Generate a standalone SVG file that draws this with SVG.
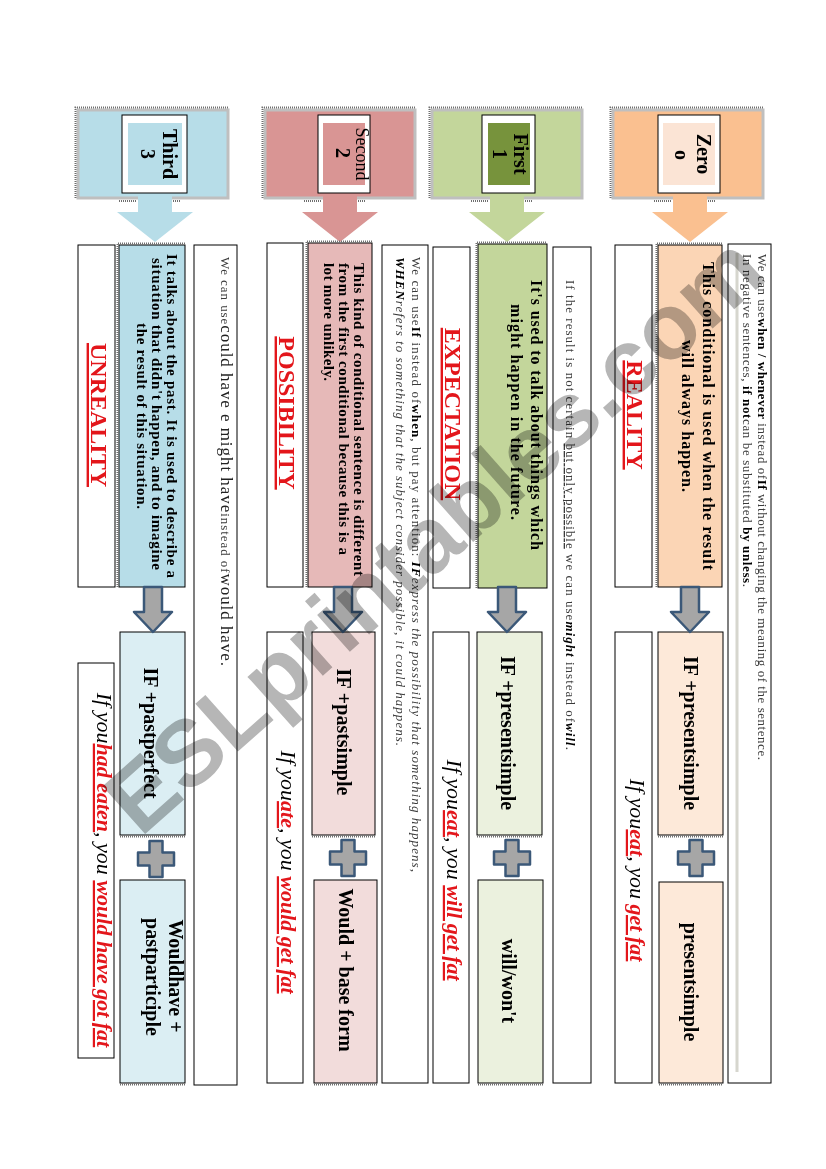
<svg xmlns="http://www.w3.org/2000/svg" width="826" height="1169" viewBox="0 0 826 1169">
<defs>
<style>
text{font-family:"Liberation Serif","Times New Roman",serif;fill:#000}
.ln{stroke:#000;stroke-width:1}
.wb{fill:#fff;stroke:#000;stroke-width:1}
.hb{fill:none;stroke:#BFBFBF;stroke-width:3}
.sh{fill:none;stroke:#6f6f6f;stroke-width:2;stroke-dasharray:1 1}
.ar{fill:#A6A6A6;stroke:#3B5878;stroke-width:2.5;stroke-linejoin:round}
.d{font-size:16px;font-weight:bold}
.d2{font-size:15px;font-weight:bold}
.lab{font-size:24px;font-weight:bold;fill:#E3161B;text-decoration:underline}
.f{font-size:20px;font-weight:bold}
.ex{font-size:22px;font-style:italic}
.r{fill:#E3161B;font-weight:bold;text-decoration:underline}
.n{font-size:13px;fill:#3a3a3a}
.nb{font-weight:bold;fill:#000}
.big{font-size:17px;fill:#222}
.wm{font-family:"Liberation Sans",Arial,sans-serif;font-size:93px;font-weight:bold;fill:#B6B6B6;mix-blend-mode:multiply}
</style>
</defs>
<rect width="826" height="1169" fill="#fff"/>

<!-- ZERO -->
<g id="zero-header">
<path d="M613,110 H763 V198 H707 V212 H728 L690,242 L652,212 H673 V198 H613 Z" fill="#FAC090"/>
<path class="hb" d="M673,198 H613 V110 H763 V198 H707"/>
<path class="sh" d="M610.5,198 V107.5 H764"/>
<path class="sh" d="M654,201 H672 M708,201 H716"/>
<rect class="wb" x="658" y="115" width="62" height="78"/>
<rect x="663" y="123" width="52" height="62" fill="#FBE4D5"/>
<text class="f" transform="translate(697,154) rotate(90)" text-anchor="middle">Zero</text>
<text class="f" transform="translate(675,155) rotate(90)" text-anchor="middle">o</text>
</g>
<g id="zero-desc">
<rect class="ln" x="658" y="245" width="64" height="342" fill="#FBD5B5"/>
<path class="sh" d="M656.5,587 V243.5 H722"/>
<text class="d" transform="translate(703,416) rotate(90)" text-anchor="middle" textLength="308">This conditional is used when the result</text>
<text class="d" transform="translate(682,416) rotate(90)" text-anchor="middle" textLength="152">will always happen.</text>
</g>
<g id="zero-label">
<rect class="wb" x="615" y="245" width="37" height="342"/>
<text class="lab" transform="translate(627,415) rotate(90)" text-anchor="middle">REALITY</text>
</g>
<g id="zero-note">
<rect class="wb" x="728" y="244" width="43" height="839"/>
<line x1="737" y1="253" x2="737" y2="1072" stroke="#D6D6CE" stroke-width="3"/>
<text class="n" transform="translate(758,254) rotate(90)" textLength="506">We can use<tspan class="nb">when / whenever</tspan>  instead of<tspan class="nb">If</tspan> without changing the meaning of the sentence.</text>
<text class="n" transform="translate(743,254) rotate(90)" textLength="333">In negative sentences, <tspan class="nb">if not</tspan>can be substituted <tspan class="nb">by unless</tspan>.</text>
</g>
<g id="zero-if">
<rect class="ln" x="658" y="632" width="65" height="203" fill="#FDE9D9"/>
<path class="sh" d="M658,836.5 H723"/>
<text class="f" transform="translate(684,733) rotate(90)" text-anchor="middle">IF +presentsimple</text>
</g>
<g id="zero-result">
<rect class="ln" x="659" y="882" width="64" height="201" fill="#FDE9D9"/>
<path class="sh" d="M659,1084.5 H723"/>
<text class="f" transform="translate(684,982) rotate(90)" text-anchor="middle">presentsimple</text>
</g>
<g id="zero-example">
<rect class="wb" x="615" y="632" width="37" height="451"/>
<text class="ex" transform="translate(630,870) rotate(90)" text-anchor="middle">If you<tspan class="r">eat</tspan>, you <tspan class="r">get fat</tspan></text>
</g>

<!-- FIRST -->
<g id="first-header">
<path d="M432,110 H582 V198 H524 V212 H545 L507,242 L469,212 H490 V198 H432 Z" fill="#C3D69B"/>
<path class="hb" d="M490,198 H432 V110 H582 V198 H524"/>
<path class="sh" d="M429.5,198 V107.5 H583"/>
<path class="sh" d="M471,201 H489 M525,201 H533"/>
<rect class="wb" x="482" y="115" width="53" height="78"/>
<rect x="488" y="123" width="42" height="62" fill="#77933C"/>
<text class="f" transform="translate(514,154) rotate(90)" text-anchor="middle">First</text>
<text class="f" transform="translate(493,154) rotate(90)" text-anchor="middle">1</text>
</g>
<g id="first-desc">
<rect class="ln" x="478" y="244" width="69" height="344" fill="#C3D69B"/>
<path class="sh" d="M476.5,588 V242.5 H547"/>
<text class="d" transform="translate(531,415) rotate(90)" text-anchor="middle" textLength="270">It's used to talk about things which</text>
<text class="d" transform="translate(511,412) rotate(90)" text-anchor="middle" textLength="216">might happen in the future.</text>
</g>
<g id="first-label">
<rect class="wb" x="433" y="247" width="37" height="341"/>
<text class="lab" transform="translate(445,414) rotate(90)" text-anchor="middle">EXPECTATION</text>
</g>
<g id="first-note">
<rect class="wb" x="553" y="247" width="38" height="836"/>
<text class="n" transform="translate(566,280) rotate(90)" textLength="470">If the result is not certain <tspan text-decoration="underline">but only possible</tspan> we can use<tspan class="nb" font-style="italic">might</tspan> instead of<tspan class="nb" font-style="italic">will</tspan>.</text>
</g>
<g id="first-note-2">
<rect class="wb" x="382" y="245" width="46" height="838"/>
<text class="n" transform="translate(412,257) rotate(90)" textLength="615">We can use<tspan class="nb">If</tspan> instead of<tspan class="nb">when</tspan>, but pay attention: <tspan class="nb" font-style="italic">IF</tspan><tspan font-style="italic">express the possibility that something happens,</tspan></text>
<text class="n" transform="translate(396,257) rotate(90)" font-style="italic" textLength="489"><tspan class="nb">WHEN</tspan>refers to something that the subject consider possible, it could happens.</text>
</g>
<g id="first-if">
<rect class="ln" x="477" y="632" width="65" height="203" fill="#EBF1DE"/>
<path class="sh" d="M477,836.5 H542"/>
<text class="f" transform="translate(501,733) rotate(90)" text-anchor="middle">IF +presentsimple</text>
</g>
<g id="first-result">
<rect class="ln" x="478" y="880" width="65" height="203" fill="#EBF1DE"/>
<path class="sh" d="M478,1084.5 H543"/>
<text class="f" transform="translate(502,981) rotate(90)" text-anchor="middle">will/won't</text>
</g>
<g id="first-example">
<rect class="wb" x="433" y="632" width="36" height="451"/>
<text class="ex" transform="translate(447,870) rotate(90)" text-anchor="middle">If you<tspan class="r">eat</tspan>, you <tspan class="r">will get fat</tspan></text>
</g>

<!-- SECOND -->
<g id="second-header">
<path d="M265,110 H415 V198 H357 V212 H378 L340,242 L302,212 H323 V198 H265 Z" fill="#D99594"/>
<path class="hb" d="M323,198 H265 V110 H415 V198 H357"/>
<path class="sh" d="M262.5,198 V107.5 H416"/>
<path class="sh" d="M304,201 H322 M358,201 H366"/>
<rect class="wb" x="318" y="115" width="52" height="78"/>
<rect x="323" y="123" width="42" height="62" fill="#D99594"/>
<text transform="translate(356,154) rotate(90)" text-anchor="middle" font-size="18">Second</text>
<text class="f" transform="translate(336,153) rotate(90)" text-anchor="middle" font-size="18">2</text>
</g>
<g id="second-desc">
<rect class="ln" x="308" y="243" width="64" height="344" fill="#E6B9B8"/>
<path class="sh" d="M306.5,587 V241.5 H372"/>
<text class="d2" transform="translate(354,263) rotate(90)" textLength="313">This kind of conditional sentence is different</text>
<text class="d2" transform="translate(339,263) rotate(90)" textLength="292">from the first conditional because this is a</text>
<text class="d2" transform="translate(324,263) rotate(90)" textLength="118">lot more unlikely.</text>
</g>
<g id="second-label">
<rect class="wb" x="267" y="243" width="36" height="344"/>
<text class="lab" transform="translate(279,413) rotate(90)" text-anchor="middle">POSSIBILITY</text>
</g>
<g id="second-if">
<rect class="ln" x="312" y="632" width="63" height="203" fill="#F2DCDB"/>
<path class="sh" d="M312,836.5 H375"/>
<text class="f" transform="translate(337,732) rotate(90)" text-anchor="middle">IF +pastsimple</text>
</g>
<g id="second-result">
<rect class="ln" x="314" y="880" width="63" height="203" fill="#F2DCDB"/>
<path class="sh" d="M314,1084.5 H377"/>
<text class="f" transform="translate(339,970) rotate(90)" text-anchor="middle">Would + base form</text>
</g>
<g id="second-example">
<rect class="wb" x="267" y="632" width="36" height="451"/>
<text class="ex" transform="translate(281,872) rotate(90)" text-anchor="middle">If you<tspan class="r">ate</tspan>, you <tspan class="r">would get fat</tspan></text>
</g>

<!-- THIRD -->
<g id="third-header">
<path d="M78,110 H228 V198 H172 V212 H193 L155,242 L117,212 H138 V198 H78 Z" fill="#B7DDE8"/>
<path class="hb" d="M138,198 H78 V110 H228 V198 H172"/>
<path class="sh" d="M75.5,198 V107.5 H229"/>
<path class="sh" d="M119,201 H137 M173,201 H181"/>
<rect class="wb" x="122" y="115" width="65" height="78"/>
<rect x="128" y="123" width="54" height="62" fill="#B7DDE8"/>
<text class="f" transform="translate(163,154) rotate(90)" text-anchor="middle" font-size="21">Third</text>
<text class="f" transform="translate(141,154) rotate(90)" text-anchor="middle" font-size="21">3</text>
</g>
<g id="third-desc">
<rect class="ln" x="119" y="245" width="66" height="342" fill="#B7DDE8"/>
<path class="sh" d="M117.5,587 V243.5 H185"/>
<text class="d2" transform="translate(167,416) rotate(90)" text-anchor="middle" textLength="324">It talks about the past. It is used to describe a</text>
<text class="d2" transform="translate(152,414) rotate(90)" text-anchor="middle" textLength="312">situation that didn't happen, and to imagine</text>
<text class="d2" transform="translate(137,416) rotate(90)" text-anchor="middle" textLength="186">the result of this situation.</text>
</g>
<g id="third-label">
<rect class="wb" x="78" y="245" width="37" height="342"/>
<text class="lab" transform="translate(91,415) rotate(90)" text-anchor="middle">UNREALITY</text>
</g>
<g id="third-note">
<rect class="wb" x="194" y="245" width="43" height="840"/>
<text class="n" transform="translate(221,257) rotate(90)" textLength="409">We can use<tspan class="big">could have e might have</tspan>instead of<tspan class="big">would have.</tspan></text>
</g>
<g id="third-if">
<rect class="ln" x="120" y="632" width="65" height="203" fill="#DBEEF3"/>
<path class="sh" d="M120,836.5 H185"/>
<text class="f" transform="translate(144,733) rotate(90)" text-anchor="middle">IF +pastperfect</text>
</g>
<g id="third-result">
<rect class="ln" x="120" y="880" width="65" height="203" fill="#DBEEF3"/>
<path class="sh" d="M120,1084.5 H185"/>
<text class="f" transform="translate(169,976) rotate(90)" text-anchor="middle">Wouldhave +</text>
<text class="f" transform="translate(146,977) rotate(90)" text-anchor="middle">pastparticiple</text>
</g>
<g id="third-example">
<rect class="wb" x="78" y="663" width="36" height="395"/>
<text class="ex" transform="translate(97,870) rotate(90)" text-anchor="middle">If you<tspan class="r">had eaten</tspan>, you <tspan class="r">would have got fat</tspan></text>
</g>

<!-- CONNECTORS -->
<g id="connectors">
<path class="ar" d="M681,587 H699 V612 H709 L690,632 L671,612 H681 Z"/>
<path class="ar" d="M498,587 H516 V612 H526 L507,632 L488,612 H498 Z"/>
<path class="ar" d="M334,587 H352 V612 H362 L343,632 L324,612 H334 Z"/>
<path class="ar" d="M144,587 H162 V612 H172 L153,632 L134,612 H144 Z"/>
<path class="ar" d="M689.5,840 H702.5 V851.5 H714 V864.5 H702.5 V876 H689.5 V864.5 H678 V851.5 H689.5 Z"/>
<path class="ar" d="M505.5,840 H518.5 V851.5 H530 V864.5 H518.5 V876 H505.5 V864.5 H494 V851.5 H505.5 Z"/>
<path class="ar" d="M341.5,840 H354.5 V851.5 H366 V864.5 H354.5 V876 H341.5 V864.5 H330 V851.5 H341.5 Z"/>
<path class="ar" d="M149.5,841 H162.5 V852.5 H174 V865.5 H162.5 V877 H149.5 V865.5 H138 V852.5 H149.5 Z"/>
</g>

<text class="wm" transform="translate(455,558) rotate(-41.7)" text-anchor="middle">ESLprintables.com</text>
</svg>
